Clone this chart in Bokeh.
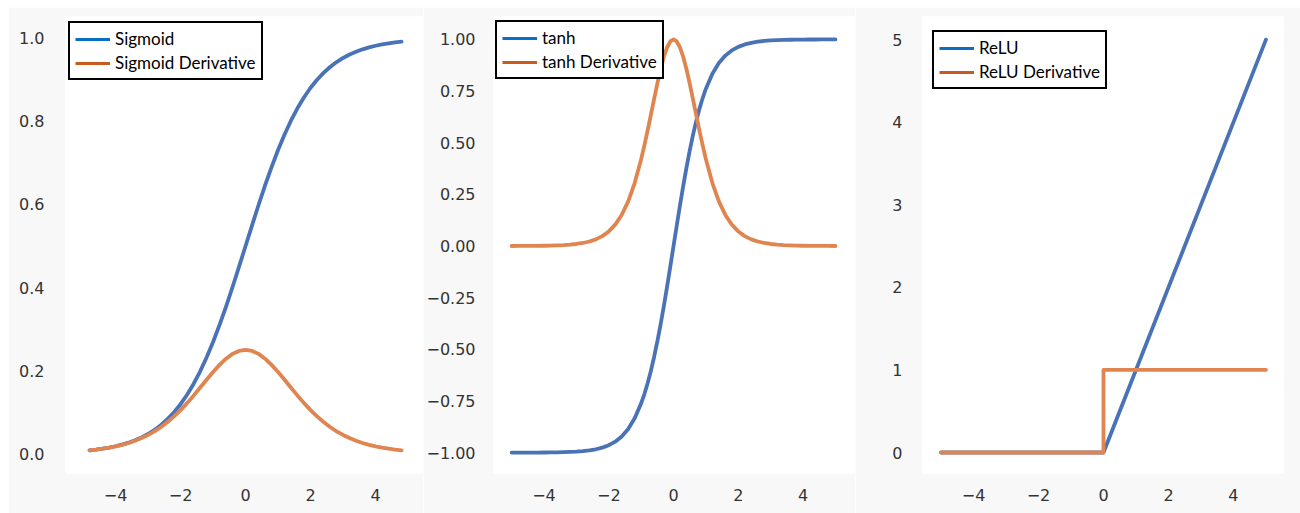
from bokeh.plotting import figure
from bokeh.layouts import row, column
from bokeh.models import (Legend, LegendItem, FixedTicker, CustomJSTickFormatter,
                          Range1d, Spacer)
from bokeh.embed import file_html
from bokeh.resources import INLINE

# ---------------- data ----------------
sig_x = [-4.8, -4.6, -4.4, -4.2, -4.0, -3.8, -3.6, -3.4, -3.2, -3.0, -2.8, -2.6,
         -2.4, -2.2, -2.0, -1.8, -1.6, -1.4, -1.2, -1.0, -0.8, -0.6, -0.4, -0.2,
         0.0, 0.2, 0.4, 0.6, 0.8, 1.0, 1.2, 1.4, 1.6, 1.8, 2.0, 2.2, 2.4, 2.6,
         2.8, 3.0, 3.2, 3.4, 3.6, 3.8, 4.0, 4.2, 4.4, 4.6, 4.8]
sigmoid = [0.0082, 0.0099, 0.0121, 0.0148, 0.0180, 0.0219, 0.0266, 0.0323, 0.0392,
           0.0474, 0.0573, 0.0691, 0.0832, 0.0998, 0.1192, 0.1419, 0.1680, 0.1978,
           0.2315, 0.2689, 0.3100, 0.3543, 0.4013, 0.4502, 0.5000, 0.5498, 0.5987,
           0.6457, 0.6900, 0.7311, 0.7685, 0.8022, 0.8320, 0.8581, 0.8808, 0.9002,
           0.9168, 0.9309, 0.9427, 0.9526, 0.9608, 0.9677, 0.9734, 0.9781, 0.9820,
           0.9852, 0.9879, 0.9901, 0.9918]
sigmoid_deriv = [0.0081, 0.0098, 0.0120, 0.0146, 0.0177, 0.0214, 0.0259, 0.0313,
                 0.0377, 0.0452, 0.0540, 0.0643, 0.0763, 0.0898, 0.1050, 0.1218,
                 0.1398, 0.1587, 0.1779, 0.1966, 0.2139, 0.2288, 0.2403, 0.2475,
                 0.2500, 0.2475, 0.2403, 0.2288, 0.2139, 0.1966, 0.1779, 0.1587,
                 0.1398, 0.1218, 0.1050, 0.0898, 0.0763, 0.0643, 0.0540, 0.0452,
                 0.0377, 0.0313, 0.0259, 0.0214, 0.0177, 0.0146, 0.0120, 0.0098,
                 0.0081]

tanh_x = [-5.0, -4.8, -4.6, -4.4, -4.2, -4.0, -3.8, -3.6, -3.4, -3.2, -3.0, -2.8,
          -2.6, -2.4, -2.2, -2.0, -1.8, -1.6, -1.4, -1.2, -1.0, -0.9, -0.8, -0.7,
          -0.6, -0.5, -0.4, -0.3, -0.2, -0.1, 0.0, 0.1, 0.2, 0.3, 0.4, 0.5, 0.6,
          0.7, 0.8, 0.9, 1.0, 1.2, 1.4, 1.6, 1.8, 2.0, 2.2, 2.4, 2.6, 2.8, 3.0,
          3.2, 3.4, 3.6, 3.8, 4.0, 4.2, 4.4, 4.6, 4.8, 5.0]
tanh_y = [-0.9999, -0.9999, -0.9998, -0.9997, -0.9996, -0.9993, -0.9990, -0.9985,
          -0.9978, -0.9967, -0.9951, -0.9926, -0.9890, -0.9837, -0.9757, -0.9640,
          -0.9468, -0.9217, -0.8854, -0.8337, -0.7616, -0.7163, -0.6640, -0.6044,
          -0.5370, -0.4621, -0.3799, -0.2913, -0.1974, -0.0997, 0.0, 0.0997,
          0.1974, 0.2913, 0.3799, 0.4621, 0.5370, 0.6044, 0.6640, 0.7163, 0.7616,
          0.8337, 0.8854, 0.9217, 0.9468, 0.9640, 0.9757, 0.9837, 0.9890, 0.9926,
          0.9951, 0.9967, 0.9978, 0.9985, 0.9990, 0.9993, 0.9996, 0.9997, 0.9998,
          0.9999, 0.9999]
tanh_deriv = [0.0002, 0.0003, 0.0004, 0.0006, 0.0009, 0.0013, 0.0020, 0.0030,
              0.0044, 0.0066, 0.0099, 0.0147, 0.0219, 0.0323, 0.0480, 0.0707,
              0.1036, 0.1505, 0.2161, 0.3049, 0.4200, 0.4869, 0.5591, 0.6347,
              0.7116, 0.7864, 0.8557, 0.9151, 0.9610, 0.9901, 1.0, 0.9901, 0.9610,
              0.9151, 0.8557, 0.7864, 0.7116, 0.6347, 0.5591, 0.4869, 0.4200,
              0.3049, 0.2161, 0.1505, 0.1036, 0.0707, 0.0480, 0.0323, 0.0219,
              0.0147, 0.0099, 0.0066, 0.0044, 0.0030, 0.0020, 0.0013, 0.0009,
              0.0006, 0.0004, 0.0003, 0.0002]

relu_x = [-5.0, 0.0, 5.0]
relu_y = [0.0, 0.0, 5.0]
relu_deriv_x = [-5.0, 0.0, 0.0, 5.0]
relu_deriv_y = [0.0, 0.0, 1.0, 1.0]

x_ticks = [-4, -2, 0, 2, 4]
sig_y_ticks = [0.0, 0.2, 0.4, 0.6, 0.8, 1.0]
tanh_y_ticks = [-1.0, -0.75, -0.5, -0.25, 0.0, 0.25, 0.5, 0.75, 1.0]
relu_y_ticks = [0, 1, 2, 3, 4, 5]

labels_sig = ["Sigmoid", "Sigmoid Derivative"]
labels_tanh = ["tanh", "tanh Derivative"]
labels_relu = ["ReLU", "ReLU Derivative"]

# ---------------- styling ----------------
CURVE_BLUE = "#4a72b6"
CURVE_ORANGE = "#e0854f"
LEG_BLUE = "#0a6fc2"
LEG_ORANGE = "#c85a1a"
BG = "#f8f8f8"
TICK_COLOR = "#333333"
NAN = float("nan")


def fmt(decimals):
    return CustomJSTickFormatter(code=f"""
        return tick.toFixed({decimals}).replace('-', '\\u2212');
    """)


def make_fig(width, xr, yr, yticks, ydec, bl, br, bt, bb, ystand):
    p = figure(width=width, height=506, output_backend="svg", toolbar_location=None,
               x_range=Range1d(*xr), y_range=Range1d(*yr),
               min_border_left=bl, min_border_right=br,
               min_border_top=bt, min_border_bottom=bb)
    p.background_fill_color = "white"
    p.border_fill_color = BG
    p.outline_line_color = None
    p.xgrid.visible = False
    p.ygrid.visible = False
    for ax in (p.xaxis[0], p.yaxis[0]):
        ax.axis_line_color = None
        ax.major_tick_line_color = None
        ax.minor_tick_line_color = None
        ax.major_tick_out = 0
        ax.major_tick_in = 0
        ax.minor_tick_out = 0
        ax.minor_tick_in = 0
        ax.major_label_text_font = "DejaVu Sans"
        ax.major_label_text_font_size = "16px"
        ax.major_label_text_color = TICK_COLOR
    p.xaxis[0].ticker = FixedTicker(ticks=x_ticks)
    p.xaxis[0].formatter = fmt(0)
    p.xaxis[0].major_label_standoff = 15
    p.yaxis[0].ticker = FixedTicker(ticks=yticks)
    p.yaxis[0].formatter = fmt(ydec)
    p.yaxis[0].major_label_standoff = ystand
    return p


def add_legend(p, labels, loc):
    r1 = p.line([NAN], [NAN], line_color=LEG_BLUE, line_width=3)
    r2 = p.line([NAN], [NAN], line_color=LEG_ORANGE, line_width=3)
    leg = Legend(items=[LegendItem(label=labels[0], renderers=[r1]),
                        LegendItem(label=labels[1], renderers=[r2])],
                 location=loc)
    leg.border_line_color = "black"
    leg.border_line_width = 2
    leg.border_line_alpha = 1
    leg.background_fill_color = "white"
    leg.background_fill_alpha = 1
    leg.padding = 5
    leg.spacing = 3
    leg.margin = 0
    leg.label_height = 20
    leg.glyph_height = 20
    leg.glyph_width = 35
    leg.label_standoff = 5
    leg.label_text_font = "Lato"
    leg.label_text_font_size = "17px"
    leg.label_text_color = "black"
    p.add_layout(leg)


def curves(p, x1, y1, x2, y2):
    p.line(x1, y1, line_color=CURVE_BLUE, line_width=3.8, line_join="round",
           line_cap="round")
    p.line(x2, y2, line_color=CURVE_ORANGE, line_width=3.8, line_join="round",
           line_cap="round")


# Panel 1: sigmoid
p1 = make_fig(415, (-5.54, 5.475), (-0.0476, 1.0524), sig_y_ticks, 1, 57, 0, 6, 38, 21)
curves(p1, sig_x, sigmoid, sig_x, sigmoid_deriv)
add_legend(p1, labels_sig, (3, 393))

# Panel 2: tanh
p2 = make_fig(432, (-5.56, 5.62), (-1.101, 1.111), tanh_y_ticks, 2, 70, 0, 8, 40, 18)
curves(p2, tanh_x, tanh_y, tanh_x, tanh_deriv)
add_legend(p2, labels_tanh, (2, 394))

# Panel 3: ReLU
p3 = make_fig(445, (-5.57, 5.54), (-0.254, 5.28), relu_y_ticks, 0, 67, 17, 9, 40, 20)
curves(p3, relu_x, relu_y, relu_deriv_x, relu_deriv_y)
add_legend(p3, labels_relu, (10, 384))

layout = column(Spacer(height=7, width=1300),
                row(Spacer(width=8, height=506), p1, p2, p3))

open("out.html", "w").write(file_html(layout, INLINE))
